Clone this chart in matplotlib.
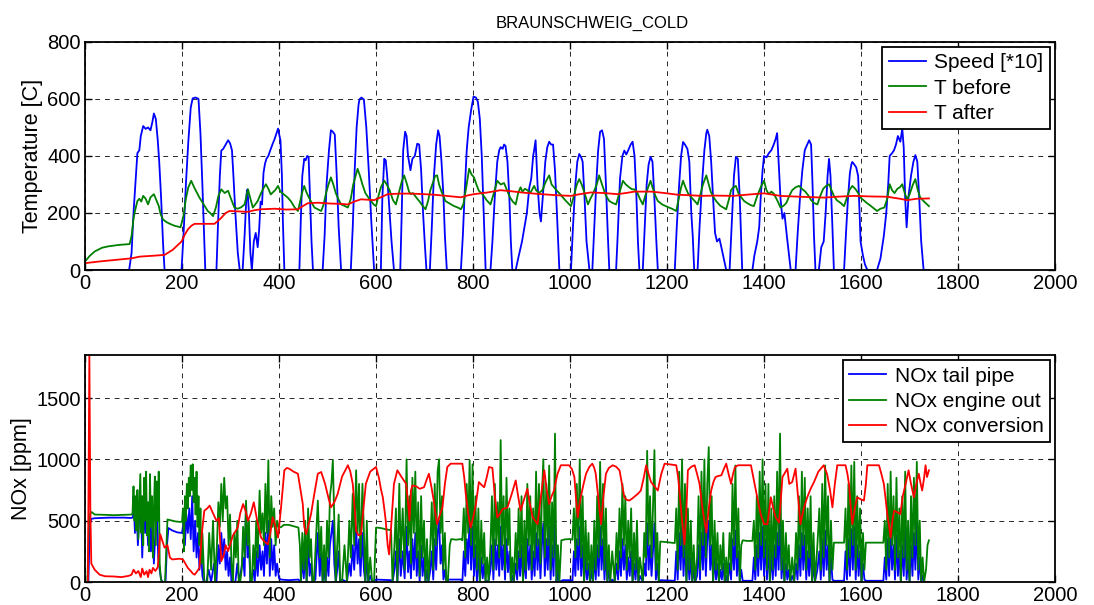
#!/usr/bin/env python3
"""
Braunschweig cold-start cycle: exhaust temperatures and NOx before/after catalyst.
"""

import matplotlib
matplotlib.use("Agg")
import matplotlib.pyplot as plt

# ---------------------------------------------------------------------------
# Data (time [s], value)
# ---------------------------------------------------------------------------

# vehicle speed, scaled x10 to share the temperature axis
speed = [
    (0, 0), (91, 0), (96, 60), (100, 200), (105, 330), (108, 410), (112, 420), (115, 470), (120, 505),
    (125, 495), (130, 500), (135, 490), (139, 520), (142, 549), (146, 530), (150, 455), (153, 380),
    (157, 250), (161, 90), (164, 0),
    (199, 0), (203, 120), (208, 300), (213, 450), (218, 570), (222, 602), (228, 605), (234, 600),
    (238, 480), (242, 300), (245, 150), (248, 0),
    (271, 0), (274, 150), (278, 330), (281, 419), (285, 425), (290, 440), (295, 455), (299, 445),
    (303, 420), (306, 330), (310, 200), (315, 60), (319, 0),
    (325, 0), (329, 120), (333, 265), (335, 283), (338, 200), (341, 60), (344, 0),
    (348, 100), (352, 130), (356, 80), (359, 140), (362, 240), (365, 230), (368, 340), (371, 372),
    (374, 390), (378, 400), (382, 420), (387, 443), (391, 460), (395, 480), (398, 496), (401, 470),
    (403, 455), (406, 330), (408, 170), (411, 0),
    (442, 0), (445, 180), (448, 330), (452, 390), (455, 385), (458, 400), (461, 397), (464, 250),
    (467, 100), (470, 0),
    (490, 0), (494, 120), (498, 300), (503, 420), (507, 490), (511, 485), (515, 475), (519, 330),
    (523, 150), (528, 0),
    (548, 0), (552, 150), (556, 350), (560, 500), (564, 580), (566, 599), (570, 605), (575, 598),
    (580, 500), (585, 350), (590, 180), (596, 0),
    (610, 0), (613, 250), (617, 390), (620, 385), (623, 330), (627, 230), (632, 100), (637, 0),
    (650, 0), (653, 200), (656, 420), (660, 485), (663, 470), (666, 400), (671, 350), (675, 390),
    (680, 400), (685, 443), (689, 440), (693, 350), (697, 200), (701, 80), (704, 0),
    (711, 0), (715, 150), (719, 320), (724, 440), (728, 490), (731, 470), (735, 380), (739, 260),
    (742, 120), (746, 0),
    (775, 0), (779, 120), (783, 280), (787, 420), (791, 500), (796, 560), (801, 608), (806, 605),
    (810, 590), (814, 530), (818, 400), (822, 200), (826, 0),
    (836, 0), (840, 100), (845, 260), (850, 380), (854, 420), (857, 431), (861, 425), (864, 440),
    (867, 435), (871, 380), (875, 250), (878, 100), (881, 0),
    (888, 0), (893, 40), (897, 70), (901, 100), (906, 150), (911, 200), (916, 289), (920, 320),
    (924, 400), (926, 420), (929, 455), (933, 300), (937, 200), (940, 170), (944, 260), (949, 380),
    (953, 430), (957, 450), (961, 440), (965, 440), (969, 350), (973, 200), (978, 0),
    (1002, 0), (1006, 150), (1011, 300), (1015, 380), (1019, 407), (1023, 395), (1026, 380),
    (1030, 250), (1034, 100), (1040, 0),
    (1046, 0), (1050, 150), (1054, 300), (1058, 420), (1062, 485), (1066, 490), (1070, 460),
    (1074, 300), (1078, 120), (1081, 0),
    (1095, 0), (1099, 150), (1103, 320), (1108, 400), (1112, 419), (1116, 405), (1120, 420),
    (1125, 440), (1129, 450), (1133, 400), (1137, 250), (1140, 100), (1143, 0),
    (1150, 0), (1154, 150), (1158, 300), (1162, 370), (1166, 397), (1170, 380), (1174, 250),
    (1178, 100), (1181, 0),
    (1216, 0), (1220, 150), (1225, 300), (1229, 400), (1233, 449), (1237, 440), (1242, 425),
    (1246, 380), (1250, 200), (1253, 120), (1256, 0),
    (1263, 0), (1267, 150), (1272, 300), (1277, 420), (1281, 480), (1283, 492), (1287, 470),
    (1291, 380), (1295, 250), (1299, 130), (1303, 100), (1308, 110), (1312, 80), (1317, 40), (1322, 0),
    (1329, 0), (1333, 150), (1338, 330), (1342, 397), (1346, 390), (1350, 250), (1353, 100), (1355, 0),
    (1376, 0), (1380, 50), (1386, 100), (1390, 150), (1393, 250), (1397, 350), (1400, 400),
    (1405, 395), (1410, 410), (1415, 420), (1420, 440), (1424, 460), (1427, 480), (1430, 380),
    (1434, 250), (1438, 180), (1442, 200), (1447, 120), (1451, 60), (1455, 0),
    (1465, 0), (1469, 120), (1474, 250), (1479, 350), (1484, 420), (1489, 440), (1493, 455),
    (1497, 440), (1500, 300), (1503, 120), (1506, 0),
    (1513, 0), (1518, 80), (1523, 100), (1527, 200), (1531, 330), (1534, 390), (1537, 330),
    (1541, 150), (1544, 0),
    (1565, 0), (1569, 130), (1573, 250), (1577, 340), (1580, 370), (1582, 379), (1586, 370),
    (1590, 360), (1594, 330), (1597, 200), (1599, 100), (1604, 50), (1608, 20), (1613, 0),
    (1633, 0), (1640, 40), (1647, 120), (1652, 200), (1656, 300), (1659, 400), (1664, 410),
    (1668, 420), (1672, 440), (1676, 470), (1681, 450), (1685, 496), (1688, 430), (1691, 250),
    (1694, 150), (1698, 260), (1703, 330), (1708, 380), (1712, 403), (1716, 380), (1720, 250),
    (1724, 100), (1729, 0), (1740, 0),
]

# exhaust temperature before catalyst [C]
t_before = [
    (0, 30), (10, 50), (20, 65), (35, 78), (48, 83), (70, 88), (92, 91), (96, 120), (100, 180),
    (103, 207), (108, 242), (112, 250), (116, 240), (120, 260), (125, 250), (130, 230), (135, 255),
    (142, 266), (147, 245), (152, 225), (156, 195), (161, 177), (168, 168), (175, 162), (185, 155),
    (197, 150), (203, 190), (208, 250), (213, 290), (219, 313), (225, 290), (231, 270), (236, 254),
    (243, 235), (253, 207), (258, 200), (264, 189), (270, 220), (275, 260), (281, 283), (288, 270),
    (295, 278), (301, 250), (308, 219), (315, 215), (322, 220), (329, 230), (333, 260), (336, 283),
    (341, 250), (346, 219), (351, 230), (356, 242), (363, 270), (369, 290), (373, 301), (378, 285),
    (383, 265), (387, 272), (392, 280), (398, 295), (403, 275), (410, 265), (418, 254), (425, 240),
    (432, 220), (439, 207), (445, 250), (449, 280), (452, 295), (456, 275), (460, 260), (466, 240),
    (473, 219), (480, 213), (487, 207), (492, 230), (497, 270), (502, 300), (507, 325), (512, 300),
    (517, 270), (522, 250), (528, 230), (535, 225), (542, 219), (548, 250), (553, 300), (558, 330),
    (562, 355), (567, 330), (572, 300), (578, 270), (584, 255), (590, 242), (595, 230), (600, 224),
    (605, 260), (610, 290), (617, 313), (622, 300), (628, 280), (635, 245), (641, 230), (647, 270),
    (653, 310), (658, 332), (664, 300), (668, 275), (672, 266), (676, 270), (680, 261), (685, 250),
    (690, 240), (696, 225), (702, 213), (707, 240), (712, 280), (718, 310), (722, 330), (726, 332),
    (730, 300), (735, 275), (740, 255), (743, 242), (750, 235), (760, 225), (770, 218), (775, 213),
    (780, 230), (786, 290), (792, 355), (797, 335), (802, 325), (807, 300), (812, 278), (820, 265),
    (828, 245), (836, 230), (843, 270), (850, 313), (857, 300), (864, 305), (870, 280), (876, 255),
    (882, 240), (888, 230), (893, 270), (898, 290), (902, 275), (907, 285), (912, 280), (918, 270),
    (926, 295), (930, 280), (936, 270), (943, 280), (950, 310), (957, 332), (962, 300), (967, 290),
    (972, 280), (980, 265), (990, 245), (1002, 224), (1008, 260), (1014, 300), (1019, 319),
    (1024, 300), (1030, 270), (1037, 230), (1042, 250), (1048, 270), (1055, 300), (1060, 332),
    (1066, 300), (1072, 270), (1076, 255), (1081, 242), (1088, 235), (1095, 230), (1100, 260),
    (1105, 290), (1109, 313), (1115, 300), (1122, 290), (1128, 283), (1133, 283), (1139, 270),
    (1144, 250), (1150, 230), (1155, 260), (1161, 290), (1166, 313), (1170, 290), (1176, 260),
    (1181, 242), (1190, 230), (1200, 222), (1210, 215), (1219, 207), (1224, 250), (1229, 290),
    (1233, 313), (1238, 290), (1243, 270), (1250, 255), (1258, 240), (1263, 230), (1268, 260),
    (1274, 300), (1281, 332), (1286, 300), (1290, 275), (1296, 255), (1302, 240), (1310, 225),
    (1316, 219), (1322, 213), (1328, 250), (1332, 280), (1336, 289), (1342, 295), (1347, 270),
    (1353, 255), (1359, 242), (1365, 235), (1372, 228), (1379, 224), (1386, 260), (1393, 290),
    (1400, 313), (1405, 280), (1410, 266), (1415, 275), (1420, 268), (1427, 245), (1434, 219),
    (1440, 225), (1446, 235), (1452, 260), (1458, 280), (1465, 290), (1472, 295), (1478, 285),
    (1485, 275), (1492, 260), (1497, 245), (1503, 235), (1510, 230), (1516, 260), (1522, 285),
    (1528, 295), (1534, 301), (1539, 280), (1544, 260), (1550, 245), (1558, 235), (1565, 224),
    (1570, 250), (1576, 280), (1582, 295), (1588, 285), (1594, 270), (1599, 254), (1605, 245),
    (1612, 235), (1620, 225), (1633, 207), (1640, 215), (1648, 219), (1654, 250), (1659, 301),
    (1664, 280), (1669, 270), (1675, 285), (1680, 290), (1685, 301), (1690, 270), (1695, 248),
    (1700, 265), (1707, 300), (1712, 319), (1717, 280), (1722, 254), (1730, 240), (1740, 224),
]

# exhaust temperature after catalyst [C]
t_after = [
    (0, 24), (30, 30), (60, 35), (96, 41), (113, 47), (140, 50), (164, 53), (181, 71), (199, 100),
    (206, 125), (212, 142), (219, 155), (226, 162), (267, 162), (274, 172), (281, 183), (290, 200),
    (298, 207), (336, 204), (350, 210), (363, 213), (391, 215), (415, 212), (439, 213), (450, 225),
    (459, 234), (480, 236), (507, 233), (528, 232), (542, 230), (555, 240), (569, 248), (596, 245),
    (610, 255), (624, 266), (650, 268), (672, 268), (700, 266), (720, 264), (745, 260), (775, 255),
    (790, 262), (802, 266), (830, 272), (857, 280), (880, 276), (900, 272), (926, 268), (950, 265),
    (975, 262), (1002, 260), (1020, 266), (1043, 272), (1070, 270), (1098, 266), (1115, 270),
    (1133, 275), (1167, 275), (1195, 270), (1222, 264), (1250, 262), (1270, 260), (1300, 261),
    (1336, 260), (1370, 265), (1400, 269), (1434, 260), (1460, 258), (1490, 256), (1524, 254),
    (1550, 257), (1585, 260), (1620, 258), (1654, 257), (1680, 250), (1695, 245), (1715, 250),
    (1740, 251),
]

# NOx downstream of the catalyst [ppm]
nox_tail = [
    (0, 0), (7, 0), (10, 480), (13, 515), (20, 520), (50, 525), (80, 525), (96, 522), (99, 530),
    (100, 700), (103, 400), (106, 650), (109, 300), (112, 550), (115, 700), (118, 200), (121, 600),
    (124, 400), (127, 650), (130, 300), (133, 550), (136, 250), (139, 500), (142, 150), (145, 400),
    (148, 600), (151, 200), (154, 100), (157, 20), (160, 0), (166, 0), (169, 300), (172, 440),
    (180, 420), (190, 405), (200, 400), (203, 480), (206, 300), (209, 550), (212, 400), (215, 600),
    (218, 350), (221, 700), (224, 250), (227, 500), (230, 200), (233, 400), (236, 100), (239, 300),
    (242, 50), (245, 0), (250, 0), (255, 100), (260, 0), (266, 150), (271, 0), (275, 300), (278, 150),
    (281, 400), (284, 200), (287, 350), (290, 100), (293, 250), (296, 50), (299, 200), (302, 0),
    (310, 0), (314, 150), (318, 0), (326, 200), (329, 50), (332, 620), (335, 200), (338, 300),
    (341, 0), (347, 100), (350, 0), (353, 250), (356, 50), (360, 300), (363, 100), (366, 250),
    (369, 50), (372, 400), (375, 150), (378, 500), (381, 50), (384, 350), (387, 100), (390, 300),
    (393, 50), (396, 150), (400, 30), (404, 20), (420, 15), (440, 20), (445, 0), (448, 200),
    (451, 30), (454, 250), (457, 0), (460, 350), (463, 50), (466, 150), (469, 0), (475, 20),
    (480, 400), (484, 50), (487, 250), (490, 0), (493, 100), (496, 0), (499, 200), (502, 50),
    (505, 300), (508, 400), (511, 500), (514, 150), (517, 0), (520, 100), (523, 250), (526, 0),
    (530, 20), (540, 0), (545, 150), (548, 50), (552, 300), (555, 100), (559, 450), (562, 150),
    (565, 350), (568, 50), (572, 400), (575, 100), (578, 0), (581, 200), (584, 0), (588, 50),
    (592, 0), (600, 20), (631, 15), (634, 0), (638, 100), (641, 250), (644, 0), (648, 350),
    (651, 50), (655, 250), (659, 30), (663, 450), (666, 80), (669, 250), (672, 30), (675, 350),
    (678, 100), (681, 400), (684, 50), (687, 250), (690, 0), (693, 300), (696, 50), (699, 200),
    (702, 0), (705, 100), (708, 0), (712, 100), (715, 250), (718, 20), (721, 350), (724, 100),
    (727, 400), (730, 500), (733, 150), (736, 300), (739, 20), (742, 100), (745, 0), (750, 20),
    (775, 20), (778, 0), (781, 250), (784, 50), (787, 350), (790, 150), (793, 580), (796, 100),
    (799, 450), (802, 50), (805, 300), (808, 0), (811, 250), (814, 0), (817, 200), (820, 30),
    (823, 150), (826, 0), (832, 10), (836, 100), (839, 300), (842, 20), (845, 350), (848, 100),
    (851, 300), (854, 50), (857, 450), (860, 100), (863, 300), (866, 20), (869, 350), (872, 80),
    (875, 250), (878, 0), (881, 50), (884, 0), (888, 150), (891, 20), (894, 250), (897, 50),
    (900, 300), (903, 0), (906, 200), (909, 30), (912, 350), (915, 100), (918, 300), (921, 20),
    (924, 250), (927, 50), (930, 400), (933, 100), (936, 350), (939, 30), (942, 300), (945, 480),
    (948, 50), (951, 350), (954, 100), (957, 450), (960, 20), (963, 300), (966, 50), (969, 550),
    (972, 0), (975, 100), (978, 0), (985, 15), (1000, 15), (1005, 10), (1008, 250), (1011, 50),
    (1014, 350), (1017, 100), (1020, 450), (1023, 50), (1026, 300), (1029, 0), (1032, 200),
    (1035, 20), (1038, 150), (1041, 0), (1044, 100), (1047, 0), (1050, 200), (1053, 20), (1056, 300),
    (1059, 50), (1062, 450), (1065, 100), (1068, 350), (1071, 20), (1074, 250), (1077, 0),
    (1080, 100), (1083, 0), (1087, 20), (1092, 0), (1096, 150), (1099, 20), (1102, 250), (1105, 50),
    (1108, 350), (1111, 100), (1114, 300), (1117, 20), (1120, 200), (1123, 50), (1126, 250),
    (1129, 0), (1132, 150), (1135, 20), (1138, 200), (1141, 0), (1144, 50), (1150, 0), (1153, 150),
    (1156, 50), (1159, 480), (1162, 100), (1165, 300), (1168, 50), (1171, 250), (1174, 480),
    (1177, 20), (1180, 150), (1183, 0), (1186, 15), (1216, 10), (1219, 250), (1222, 20), (1225, 400),
    (1228, 100), (1231, 450), (1234, 50), (1237, 350), (1240, 0), (1243, 250), (1246, 20),
    (1249, 200), (1252, 0), (1255, 100), (1258, 0), (1262, 50), (1265, 300), (1268, 20), (1271, 400),
    (1274, 100), (1277, 450), (1280, 50), (1283, 350), (1286, 500), (1289, 100), (1292, 300),
    (1295, 0), (1298, 200), (1301, 20), (1304, 150), (1307, 0), (1310, 100), (1313, 20), (1316, 150),
    (1319, 0), (1322, 50), (1325, 0), (1329, 150), (1332, 20), (1335, 350), (1338, 100), (1341, 420),
    (1344, 50), (1347, 250), (1350, 0), (1353, 100), (1356, 10), (1376, 10), (1379, 200), (1382, 20),
    (1385, 300), (1388, 50), (1391, 400), (1394, 100), (1397, 450), (1400, 50), (1403, 350),
    (1406, 20), (1409, 300), (1412, 0), (1415, 250), (1418, 20), (1421, 300), (1424, 50), (1427, 400),
    (1430, 100), (1433, 550), (1436, 30), (1439, 200), (1442, 0), (1445, 150), (1448, 20),
    (1451, 100), (1454, 0), (1458, 50), (1462, 0), (1466, 150), (1469, 20), (1472, 300), (1475, 50),
    (1478, 400), (1481, 100), (1484, 380), (1487, 20), (1490, 250), (1493, 50), (1496, 300),
    (1499, 0), (1502, 150), (1505, 0), (1510, 100), (1514, 250), (1517, 20), (1520, 350), (1523, 50),
    (1526, 420), (1529, 100), (1532, 300), (1535, 0), (1538, 200), (1541, 20), (1544, 10),
    (1565, 10), (1568, 250), (1571, 20), (1574, 350), (1577, 50), (1580, 430), (1583, 100),
    (1586, 450), (1589, 20), (1592, 300), (1595, 50), (1598, 250), (1601, 0), (1604, 150),
    (1607, 20), (1610, 10), (1646, 10), (1649, 200), (1652, 20), (1655, 350), (1658, 50), (1661, 420),
    (1664, 100), (1667, 300), (1670, 20), (1673, 380), (1676, 50), (1679, 250), (1682, 0), (1685, 300),
    (1688, 50), (1691, 450), (1694, 20), (1697, 200), (1700, 0), (1703, 300), (1706, 50), (1709, 400),
    (1712, 100), (1715, 500), (1718, 20), (1721, 200), (1724, 0), (1727, 50), (1730, 0), (1740, 0),
]

# NOx upstream of the catalyst [ppm]
nox_engine = [
    (0, 0), (5, 0), (8, 480), (11, 560), (14, 570), (20, 550), (40, 548), (60, 545), (80, 548),
    (96, 550), (98, 560), (100, 780), (102, 500), (104, 700), (106, 420), (108, 750), (110, 350),
    (112, 620), (114, 880), (116, 400), (118, 700), (120, 300), (122, 850), (124, 500), (126, 900),
    (128, 380), (130, 650), (132, 250), (134, 880), (136, 450), (138, 700), (140, 200), (142, 600),
    (144, 860), (146, 300), (148, 820), (150, 500), (152, 900), (154, 150), (156, 40), (158, 0),
    (165, 0), (168, 300), (170, 510), (175, 505), (185, 495), (195, 490), (200, 492), (202, 600),
    (204, 250), (206, 700), (208, 500), (210, 800), (212, 600), (214, 850), (216, 700), (218, 950),
    (220, 750), (222, 960), (224, 650), (226, 850), (228, 550), (230, 900), (232, 450), (234, 700),
    (236, 300), (238, 600), (240, 150), (242, 400), (244, 200), (246, 0), (249, 0), (252, 0),
    (256, 400), (260, 100), (264, 500), (268, 0), (272, 300), (275, 650), (278, 450), (281, 800),
    (284, 500), (287, 850), (290, 600), (293, 700), (296, 300), (299, 550), (302, 150), (305, 0),
    (308, 400), (311, 200), (314, 500), (317, 0), (320, 0), (323, 100), (326, 450), (329, 200),
    (332, 664), (335, 300), (338, 500), (341, 0), (344, 0), (347, 300), (350, 100), (353, 500),
    (356, 200), (360, 746), (363, 400), (366, 560), (369, 300), (372, 800), (375, 400), (378, 993),
    (381, 200), (384, 700), (387, 450), (390, 600), (393, 300), (396, 500), (400, 442), (405, 450),
    (410, 466), (420, 466), (430, 455), (440, 444), (443, 300), (445, 0), (448, 400), (451, 100),
    (454, 500), (457, 0), (460, 600), (463, 200), (466, 350), (469, 0), (472, 0), (475, 250),
    (480, 664), (484, 200), (487, 450), (490, 0), (493, 300), (496, 0), (499, 500), (502, 200),
    (505, 700), (508, 801), (511, 993), (514, 500), (517, 0), (520, 300), (523, 550), (526, 0),
    (530, 0), (535, 300), (540, 0), (545, 500), (548, 200), (552, 719), (555, 300), (559, 911),
    (562, 400), (565, 800), (568, 200), (572, 801), (575, 400), (578, 0), (581, 500), (584, 0),
    (588, 200), (592, 0), (596, 0), (600, 444), (610, 440), (620, 430), (631, 422), (634, 0),
    (638, 300), (641, 600), (644, 0), (648, 801), (651, 200), (655, 600), (659, 100), (663, 1000),
    (666, 300), (669, 700), (672, 150), (675, 850), (678, 400), (681, 900), (684, 200), (687, 650),
    (690, 50), (693, 700), (696, 200), (699, 500), (702, 0), (705, 350), (708, 0), (712, 300),
    (715, 650), (718, 100), (721, 800), (724, 300), (727, 900), (730, 1000), (733, 400), (736, 700),
    (739, 100), (742, 400), (745, 0), (748, 0), (752, 300), (755, 350), (765, 345), (775, 350),
    (778, 340), (781, 600), (784, 200), (787, 800), (790, 400), (793, 993), (796, 300), (799, 960),
    (802, 200), (805, 700), (808, 100), (811, 600), (814, 0), (817, 500), (820, 150), (823, 400),
    (826, 0), (829, 200), (832, 0), (836, 300), (839, 700), (842, 100), (845, 800), (848, 300),
    (851, 650), (854, 200), (857, 1157), (860, 300), (863, 700), (866, 100), (869, 850), (872, 300),
    (875, 600), (878, 0), (881, 200), (884, 0), (888, 400), (891, 100), (894, 600), (897, 200),
    (900, 700), (903, 0), (906, 500), (909, 100), (912, 800), (915, 300), (918, 700), (921, 100),
    (924, 600), (927, 200), (930, 900), (933, 300), (936, 800), (939, 150), (942, 700), (945, 1000),
    (948, 200), (951, 800), (954, 300), (957, 950), (960, 100), (963, 650), (966, 200), (969, 1210),
    (972, 0), (975, 300), (978, 0), (982, 340), (990, 348), (1000, 350), (1005, 345), (1008, 600),
    (1011, 200), (1014, 800), (1017, 300), (1020, 1000), (1023, 200), (1026, 700), (1029, 0),
    (1032, 500), (1035, 100), (1038, 400), (1041, 0), (1044, 300), (1047, 0), (1050, 500),
    (1053, 100), (1056, 700), (1059, 200), (1062, 980), (1065, 300), (1068, 800), (1071, 100),
    (1074, 600), (1077, 0), (1080, 300), (1083, 0), (1087, 250), (1092, 0), (1096, 400), (1099, 100),
    (1102, 600), (1105, 200), (1108, 800), (1111, 300), (1114, 700), (1117, 100), (1120, 500),
    (1123, 200), (1126, 600), (1129, 0), (1132, 400), (1135, 100), (1138, 500), (1141, 0),
    (1144, 200), (1150, 0), (1153, 400), (1156, 200), (1159, 1070), (1162, 300), (1165, 700),
    (1168, 200), (1171, 600), (1174, 1075), (1177, 100), (1180, 400), (1183, 0), (1186, 330),
    (1200, 325), (1210, 320), (1216, 318), (1219, 600), (1222, 100), (1225, 900), (1228, 300),
    (1231, 1000), (1234, 200), (1237, 800), (1240, 0), (1243, 600), (1246, 100), (1249, 500),
    (1252, 0), (1255, 300), (1258, 0), (1262, 200), (1265, 700), (1268, 100), (1271, 900),
    (1274, 300), (1277, 1000), (1280, 200), (1283, 800), (1286, 1100), (1289, 300), (1292, 700),
    (1295, 0), (1298, 500), (1301, 100), (1304, 400), (1307, 0), (1310, 300), (1313, 100),
    (1316, 400), (1319, 0), (1322, 200), (1325, 0), (1329, 400), (1332, 100), (1335, 800),
    (1338, 300), (1341, 950), (1344, 200), (1347, 600), (1350, 0), (1353, 300), (1356, 340),
    (1365, 335), (1376, 335), (1379, 500), (1382, 100), (1385, 700), (1388, 200), (1391, 900),
    (1394, 300), (1397, 1000), (1400, 200), (1403, 800), (1406, 100), (1409, 800), (1412, 0),
    (1415, 600), (1418, 100), (1421, 700), (1424, 200), (1427, 900), (1430, 300), (1433, 1210),
    (1436, 100), (1439, 500), (1442, 0), (1445, 400), (1448, 100), (1451, 300), (1454, 0),
    (1458, 200), (1462, 0), (1466, 400), (1469, 100), (1472, 700), (1475, 200), (1478, 900),
    (1481, 300), (1484, 850), (1487, 100), (1490, 600), (1493, 200), (1496, 700), (1499, 0),
    (1502, 400), (1505, 0), (1510, 300), (1514, 600), (1517, 100), (1520, 800), (1523, 200),
    (1526, 950), (1529, 300), (1532, 700), (1535, 0), (1538, 500), (1541, 100), (1544, 321),
    (1552, 321), (1565, 321), (1568, 600), (1571, 100), (1574, 800), (1577, 200), (1580, 950),
    (1583, 300), (1586, 980), (1589, 100), (1592, 700), (1595, 200), (1598, 600), (1601, 0),
    (1604, 400), (1607, 100), (1610, 321), (1620, 321), (1633, 321), (1640, 321), (1646, 321),
    (1649, 500), (1652, 100), (1655, 800), (1658, 200), (1661, 900), (1664, 300), (1667, 700),
    (1670, 100), (1673, 850), (1676, 200), (1679, 600), (1682, 0), (1685, 700), (1688, 200),
    (1691, 900), (1694, 100), (1697, 500), (1700, 0), (1703, 700), (1706, 200), (1709, 850),
    (1712, 300), (1715, 980), (1718, 100), (1721, 500), (1724, 0), (1727, 200), (1730, 0),
    (1734, 100), (1737, 300), (1740, 340),
]

# NOx conversion (scaled onto the ppm axis)
nox_conv = [
    (0, 0), (6, 0), (9, 1850), (11, 600), (13, 150), (20, 100), (30, 60), (41, 47), (60, 45),
    (75, 40), (90, 50), (96, 60), (100, 100), (105, 70), (110, 90), (115, 40), (118, 110), (122, 60),
    (127, 88), (130, 40), (133, 100), (137, 70), (140, 115), (145, 90), (150, 120), (155, 390),
    (160, 330), (164, 280), (170, 300), (175, 200), (180, 184), (195, 190), (202, 184), (207, 150),
    (212, 115), (218, 90), (222, 70), (226, 60), (230, 80), (236, 115), (241, 400), (246, 582),
    (252, 600), (257, 623), (264, 560), (271, 500), (276, 520), (281, 170), (286, 220), (290, 300),
    (295, 252), (305, 380), (315, 444), (320, 560), (326, 636), (331, 580), (336, 500), (342, 560),
    (348, 650), (355, 500), (363, 362), (370, 330), (377, 307), (382, 400), (387, 527), (393, 450),
    (398, 362), (404, 600), (411, 911), (416, 930), (421, 924), (430, 900), (439, 883), (444, 760),
    (449, 636), (452, 450), (456, 390), (461, 470), (466, 554), (472, 700), (480, 883), (487, 897),
    (495, 800), (501, 700), (507, 609), (514, 650), (521, 719), (530, 860), (542, 952), (547, 900),
    (552, 801), (556, 600), (559, 417), (564, 380), (569, 390), (574, 600), (579, 801), (588, 900),
    (600, 938), (606, 850), (610, 760), (614, 691), (617, 600), (620, 500), (624, 300), (627, 225),
    (632, 500), (637, 800), (644, 911), (652, 860), (657, 830), (662, 801), (666, 650), (669, 500),
    (672, 746), (675, 787), (683, 780), (690, 760), (699, 773), (704, 830), (709, 883), (714, 780),
    (719, 664), (723, 540), (726, 472), (731, 540), (737, 609), (742, 800), (747, 938), (754, 965),
    (778, 965), (782, 850), (785, 719), (790, 560), (795, 444), (800, 520), (806, 636), (812, 815),
    (818, 790), (823, 773), (828, 850), (833, 938), (840, 930), (845, 700), (850, 527), (856, 560),
    (861, 595), (866, 600), (871, 609), (880, 720), (888, 828), (893, 700), (898, 582), (905, 670),
    (912, 760), (917, 640), (923, 527), (928, 500), (933, 472), (940, 700), (947, 911), (952, 750),
    (957, 636), (962, 700), (967, 746), (974, 880), (981, 952), (998, 952), (1004, 920), (1009, 856),
    (1013, 650), (1016, 527), (1019, 620), (1022, 691), (1028, 800), (1033, 883), (1040, 940),
    (1046, 965), (1050, 930), (1053, 883), (1058, 700), (1064, 472), (1069, 700), (1074, 883),
    (1080, 930), (1088, 952), (1095, 940), (1102, 911), (1107, 800), (1112, 691), (1117, 670),
    (1122, 664), (1128, 680), (1134, 700), (1140, 720), (1146, 746), (1152, 850), (1157, 952),
    (1162, 880), (1167, 815), (1174, 780), (1181, 746), (1188, 880), (1195, 965), (1219, 952),
    (1223, 850), (1226, 719), (1231, 500), (1236, 307), (1240, 600), (1243, 911), (1250, 940),
    (1257, 952), (1262, 880), (1267, 801), (1273, 600), (1281, 403), (1286, 600), (1291, 746),
    (1296, 820), (1300, 856), (1306, 865), (1312, 870), (1317, 920), (1322, 965), (1327, 880),
    (1332, 801), (1336, 880), (1340, 935), (1345, 950), (1349, 952), (1373, 952), (1378, 850),
    (1383, 746), (1388, 650), (1393, 554), (1400, 472), (1407, 472), (1414, 691), (1419, 600),
    (1424, 527), (1431, 486), (1435, 700), (1438, 856), (1448, 924), (1452, 800), (1458, 815),
    (1465, 924), (1470, 700), (1475, 472), (1482, 600), (1489, 691), (1496, 760), (1503, 815),
    (1512, 900), (1523, 952), (1530, 880), (1536, 750), (1541, 609), (1546, 800), (1551, 952),
    (1568, 952), (1572, 880), (1575, 801), (1579, 600), (1582, 472), (1587, 600), (1592, 691),
    (1599, 675), (1606, 664), (1610, 800), (1613, 952), (1637, 952), (1642, 880), (1647, 801),
    (1650, 700), (1654, 554), (1658, 450), (1661, 362), (1664, 480), (1668, 582), (1674, 570),
    (1681, 554), (1686, 700), (1692, 801), (1698, 911), (1703, 800), (1709, 691), (1714, 800),
    (1719, 883), (1723, 800), (1726, 746), (1730, 850), (1733, 952), (1736, 856), (1740, 911),
]

# Axis setup
x_ticks = list(range(0, 2001, 200))
temp_ticks = [0, 200, 400, 600, 800]
nox_ticks = [0, 500, 1000, 1500]

OUTPUT_FILE = "out.png"

BLUE = (0, 0, 1)
GREEN = (0, 0.5, 0)
RED = (1, 0, 0)


def xy(pairs):
    """Split a list of (t, value) pairs into two lists."""
    return [p[0] for p in pairs], [p[1] for p in pairs]


def style_axes(ax, yticks, ylim):
    """MATLAB-like look: boxed, inward ticks, dashed black grid."""
    ax.set_xlim(0, 2000)
    ax.set_ylim(*ylim)
    ax.set_xticks(x_ticks)
    ax.set_yticks(yticks)
    ax.tick_params(direction='in', length=5, width=1, top=True, right=True,
                   labelsize=14.5, pad=3)
    for side in ax.spines.values():
        side.set_linewidth(1.3)
    ax.grid(True, color='k', linestyle=(0, (5, 5)), linewidth=0.7, alpha=0.85)
    ax.set_axisbelow(True)


def legend(ax, labels):
    leg = ax.legend(labels, loc='upper right', fontsize=15, frameon=True, fancybox=False,
                    edgecolor='k', framealpha=1, borderaxespad=0.25, borderpad=0.3,
                    labelspacing=0.3, handlelength=1.8, handletextpad=0.4)
    leg.get_frame().set_linewidth(1.3)


plt.rcParams['font.family'] = ['Liberation Sans', 'DejaVu Sans']

fig = plt.figure(figsize=(10.94, 6.05), dpi=100)
ax1 = fig.add_axes([0.0777, 0.5537, 0.8867, 0.377])
ax2 = fig.add_axes([0.0777, 0.038, 0.8867, 0.375])

# Top: speed and temperatures
ax1.plot(*xy(speed), color=BLUE, linewidth=1.3)
ax1.plot(*xy(t_before), color=GREEN, linewidth=1.3)
ax1.plot(*xy(t_after), color=RED, linewidth=1.3)
style_axes(ax1, temp_ticks, (0, 800))
ax1.set_ylabel('Temperature [C]', fontsize=15.5, labelpad=3)
ax1.set_title('BRAUNSCHWEIG_COLD', fontsize=12, pad=10, x=0.523)
legend(ax1, ['Speed [*10]', 'T before', 'T after'])

# Bottom: NOx
ax2.plot(*xy(nox_tail), color=BLUE, linewidth=1.3)
ax2.plot(*xy(nox_engine), color=GREEN, linewidth=1.3)
ax2.plot(*xy(nox_conv), color=RED, linewidth=1.3)
style_axes(ax2, nox_ticks, (0, 1850))
ax2.set_ylabel('NOx [ppm]', fontsize=15.5, labelpad=3)
legend(ax2, ['NOx tail pipe', 'NOx engine out', 'NOx conversion'])

fig.savefig(OUTPUT_FILE, dpi=100)
print(f"Chart saved to {OUTPUT_FILE}")
